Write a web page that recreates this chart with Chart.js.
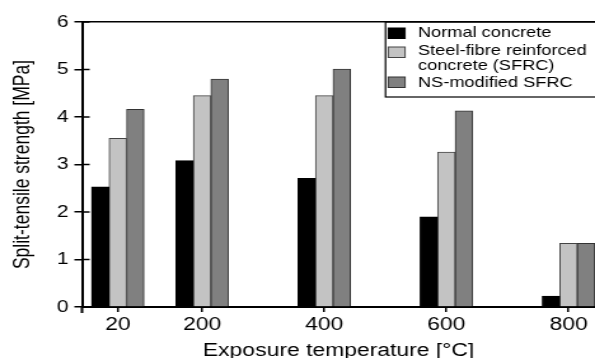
<!DOCTYPE html>
<html>
<head>
<meta charset="utf-8">
<script src="https://cdn.jsdelivr.net/npm/chart.js@4/dist/chart.umd.min.js"></script>
<style>
  html, body { margin: 0; padding: 0; background: #fff; overflow: hidden; }
  /* the reference is stretched sideways, so draw narrow and widen */
  #wrap { width: 468px; height: 358px; transform: scaleX(1.2714); transform-origin: 0 0; }
</style>
</head>
<body>
<div id="wrap"><canvas id="chart" width="468" height="358"></canvas></div>
<script>
// Data
const temperatures = ['20', '200', '400', '600', '800'];
const normalConcrete = [2.53, 3.08, 2.71, 1.90, 0.23];
const steelFibreConcrete = [3.55, 4.45, 4.45, 3.26, 1.34];
const nsModifiedSfrc = [4.16, 4.80, 5.01, 4.13, 1.34];
const seriesNames = ['Normal concrete', ['Steel-fibre reinforced', 'concrete (SFRC)'], 'NS-modified SFRC'];
const yTicks = [0, 1, 2, 3, 4, 5, 6];

const FONT = "'Liberation Sans', Arial, sans-serif";

// Category axis where the first group sits closer to the second one
const FIRST_SLOT = 0.31;
const X_START = 0.017;
const X_END = 4.217;

class SpacedCategoryScale extends Chart.CategoryScale {
    getPixelForValue(value) {
        if (typeof value !== 'number') value = this.parse(value);
        if (value === null || isNaN(value)) return NaN;
        const slot = value === 0 ? FIRST_SLOT : value;
        return this.getPixelForDecimal((slot - X_START) / (X_END - X_START));
    }
}
SpacedCategoryScale.id = 'spacedCategory';
SpacedCategoryScale.defaults = {};
Chart.register(SpacedCategoryScale);

// Inward tick marks on the y axis, and the axis poking below zero
const innerTicks = {
    id: 'innerTicks',
    afterDraw(chart) {
        const y = chart.scales.y;
        const ctx = chart.ctx;
        ctx.save();
        ctx.strokeStyle = '#000';
        ctx.lineWidth = 1.5;
        y.ticks.forEach(t => {
            if (t.value === 0) return;
            const py = y.getPixelForValue(t.value);
            ctx.beginPath();
            ctx.moveTo(y.right, py);
            ctx.lineTo(y.right + 6, py);
            ctx.stroke();
        });
        ctx.lineWidth = 2;
        ctx.beginPath();
        ctx.moveTo(y.right, chart.chartArea.bottom);
        ctx.lineTo(y.right, chart.chartArea.bottom + 6);
        ctx.stroke();
        ctx.restore();
    }
};

// Boxed legend in the top right corner
const legendBox = {
    id: 'legendBox',
    afterDraw(chart) {
        const ctx = chart.ctx;
        const top = chart.chartArea.top;
        const left = 303.2, bottom = 97;
        const rows = [
            { box: 28, lines: [32.7] },
            { box: 47, lines: [51, 66.5] },
            { box: 77, lines: [83.5] }
        ];
        ctx.save();
        ctx.fillStyle = '#fff';
        ctx.fillRect(left, top + 1, chart.width - left + 2, bottom - top - 1);
        ctx.strokeStyle = '#000';
        ctx.lineWidth = 1.2;
        ctx.strokeRect(left, top, chart.width - left + 5, bottom - top);
        ctx.font = '14.3px ' + FONT;
        ctx.textAlign = 'left';
        ctx.textBaseline = 'middle';
        chart.data.datasets.forEach((ds, i) => {
            const r = rows[i];
            ctx.fillStyle = ds.backgroundColor;
            ctx.fillRect(305.4, r.box, 13.2, 10.5);
            ctx.strokeStyle = ds.borderColor;
            ctx.lineWidth = 1;
            ctx.strokeRect(305.4, r.box, 13.2, 10.5);
            const text = Array.isArray(ds.label) ? ds.label : [ds.label];
            ctx.fillStyle = '#000';
            text.forEach((line, j) => ctx.fillText(line, 328.8, r.lines[j]));
        });
        ctx.restore();
    }
};

new Chart(document.getElementById('chart'), {
    type: 'bar',
    data: {
        labels: temperatures,
        datasets: [
            { label: seriesNames[0], data: normalConcrete, backgroundColor: '#000000', borderColor: '#000000' },
            { label: seriesNames[1], data: steelFibreConcrete, backgroundColor: '#c3c3c3', borderColor: '#444444' },
            { label: seriesNames[2], data: nsModifiedSfrc, backgroundColor: '#808080', borderColor: '#333333' }
        ]
    },
    options: {
        responsive: false,
        animation: false,
        devicePixelRatio: 1,
        layout: { padding: { top: 22, left: 0, right: 0, bottom: 0 } },
        datasets: {
            bar: { barThickness: 13.8, borderWidth: 1 }
        },
        plugins: {
            legend: { display: false },
            tooltip: { enabled: false }
        },
        scales: {
            x: {
                type: 'spacedCategory',
                offset: false,
                afterFit: scale => { scale.height = 51; },
                border: { display: true, color: '#000', width: 2 },
                grid: {
                    offset: false,
                    drawOnChartArea: false,
                    drawTicks: true,
                    tickLength: 5,
                    color: '#000',
                    lineWidth: 1.5
                },
                ticks: {
                    color: '#000',
                    padding: 2,
                    font: { family: FONT, size: 18 }
                },
                title: {
                    display: true,
                    text: 'Exposure temperature [°C]',
                    color: '#000',
                    font: { family: FONT, size: 18, lineHeight: 1 },
                    padding: { top: 0, bottom: -2 }
                }
            },
            y: {
                min: yTicks[0],
                max: yTicks[yTicks.length - 1],
                afterBuildTicks: scale => { scale.ticks = yTicks.map(v => ({ value: v })); },
                afterFit: scale => { scale.width = 64.5; },
                border: { display: true, color: '#000', width: 2 },
                grid: {
                    drawOnChartArea: true,
                    drawTicks: true,
                    tickLength: 6,
                    lineWidth: 1.5,
                    color: ctx => ctx.tick && ctx.tick.value === yTicks[yTicks.length - 1] ? '#000' : 'rgba(0,0,0,0)',
                    tickColor: '#000'
                },
                ticks: {
                    color: '#000',
                    padding: 4.5,
                    font: { family: FONT, size: 16.5 }
                },
                title: {
                    display: true,
                    text: 'Split-tensile strength [MPa]',
                    color: '#000',
                    font: { family: FONT, size: 17.5 },
                    padding: { top: 7.5, bottom: 0 }
                }
            }
        }
    },
    plugins: [innerTicks, legendBox]
});
</script>
</body>
</html>
